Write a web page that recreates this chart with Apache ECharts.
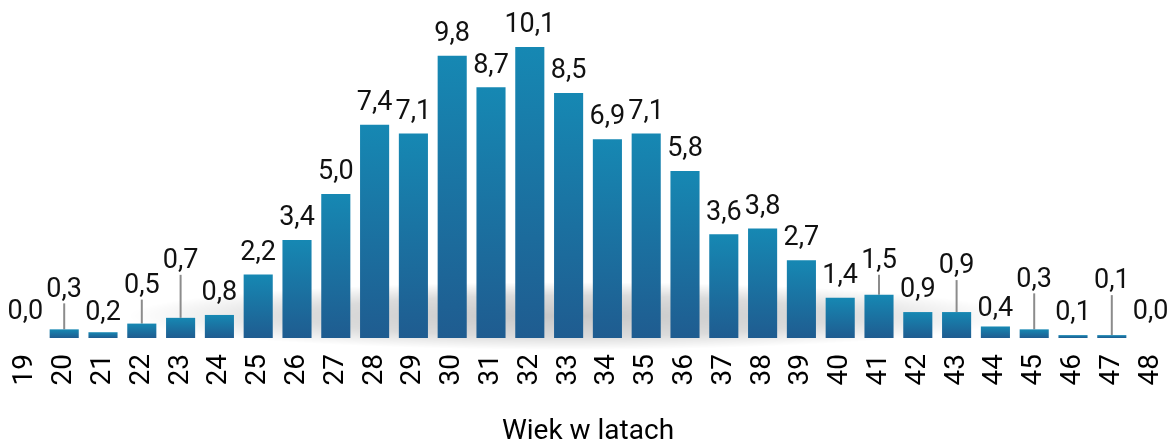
<!DOCTYPE html>
<html>
<head>
<meta charset="utf-8">
<style>
  html, body { margin: 0; padding: 0; background: #fff; }
  #chart { width: 1170px; height: 443px; }
</style>
<script src="https://cdn.jsdelivr.net/npm/echarts@6/dist/echarts.min.js"></script>
</head>
<body>
<div id="chart"></div>
<script>
// Data
const ages = ['19','20','21','22','23','24','25','26','27','28','29','30','31','32','33','34','35','36','37','38','39','40','41','42','43','44','45','46','47','48'];
const shares = [0.0,0.3,0.2,0.5,0.7,0.8,2.2,3.4,5.0,7.4,7.1,9.8,8.7,10.1,8.5,6.9,7.1,5.8,3.6,3.8,2.7,1.4,1.5,0.9,0.9,0.4,0.3,0.1,0.1,0.0];
const axisTitle = 'Wiek w latach';

// Label lifts (pixels) for labels moved above their bars; leader lines for those marked
const labelLift = {0: 4, 1: 18, 2: -3, 3: 16, 4: 35, 22: 12, 24: 24, 25: -4, 26: 28, 28: 32, 29: 4};
const withLine = {1: true, 3: true, 4: true, 22: true, 24: true, 26: true, 28: true};

const chart = echarts.init(document.getElementById('chart'));
const barData = shares.map((v, i) => withLine[i]
  ? { value: v, labelLine: { show: true, lineStyle: { color: '#8c8c8c', width: 2 } } }
  : { value: v });

chart.setOption({
  animation: false,
  grid: { left: 6, right: 0, top: 47, bottom: 105, containLabel: false, outerBoundsMode: 'none' },
  graphic: [{
    type: 'circle',
    z: -10,
    silent: true,
    x: 570, y: 316,
    scaleX: 13, scaleY: 1,
    shape: { cx: 0, cy: 0, r: 34 },
    style: {
      fill: new echarts.graphic.RadialGradient(0.5, 0.5, 0.5, [
        { offset: 0, color: 'rgba(0,0,0,0.22)' },
        { offset: 0.6, color: 'rgba(0,0,0,0.14)' },
        { offset: 1, color: 'rgba(0,0,0,0)' }
      ])
    }
  }],
  xAxis: {
    type: 'category',
    data: ages,
    axisLine: { show: false },
    axisTick: { show: false },
    axisLabel: {
      rotate: 90, margin: 16, color: '#000',
      fontFamily: 'Roboto', fontSize: 28, interval: 0
    },
    name: axisTitle,
    nameLocation: 'middle',
    nameGap: 80,
    nameTextStyle: { color: '#000', fontFamily: 'Roboto', fontSize: 28 }
  },
  yAxis: { type: 'value', min: 0, max: 10.1, show: false, splitLine: { show: false } },
  series: [{
    type: 'bar',
    data: barData,
    barCategoryGap: '25%',
    z: 2,
    itemStyle: {
      color: new echarts.graphic.LinearGradient(0, 0, 0, 1, [
        { offset: 0, color: '#1688b3' },
        { offset: 1, color: '#1f5c90' }
      ])
    },
    label: {
      show: true, position: 'top', distance: 8,
      color: '#111', fontFamily: 'Roboto', fontSize: 27,
      formatter: p => p.value.toFixed(1).replace('.', ',')
    },
    labelLine: { show: false },
    labelLayout: function (params) {
      const l = labelLift[params.dataIndex];
      if (l) return { dy: -l };
      return {};
    }
  }]
});
</script>
</body>
</html>
